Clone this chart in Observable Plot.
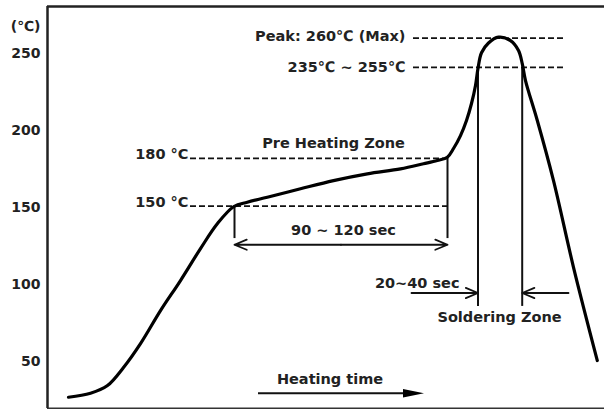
<!DOCTYPE html>
<html><head><meta charset="utf-8">
<script src="https://cdn.jsdelivr.net/npm/d3@7"></script>
<script src="https://cdn.jsdelivr.net/npm/@observablehq/plot@0.6"></script>
<style>body{margin:0;background:#fff} svg{display:block}</style>
</head><body><div id="chart"></div>
<script>
// Temperature axis ticks (°C)
const tempTicks = [50, 100, 150, 200, 250];

// Reflow profile: time (s) and temperature (°C)
const profileTime = [10.5, 21.5, 30, 38, 46.5, 56.5, 66.5, 76.5, 84.9, 93.2, 99.9, 109.9, 126.5, 143, 159.9, 176.5, 188, 194.9, 199.9, 203, 206.5, 209.5, 212, 214, 215.2, 217, 220.5, 225.5, 231.5, 235.5, 237.4, 239, 244.9, 253, 263, 274.9];
const profileTemp = [27.1, 29.7, 34.7, 46.4, 61.9, 83.3, 102.8, 123.5, 139.6, 150.8, 153.6, 156.8, 162.3, 167.6, 172.0, 175.2, 178.5, 180.6, 182.7, 188.4, 196.8, 206.6, 217.6, 229.3, 240.0, 250.5, 256.8, 260.6, 258.4, 252.0, 243.3, 232.5, 206.6, 167.6, 111.4, 50.9];

// Dashed reference levels
const refTemp = [260, 241, 182, 151];
const refStart = [183, 183, 71.5, 71.5];
const refEnd = [258, 258, 200, 200];

// Vertical guide lines
const guideTime = [93.5, 200, 215.25, 237.35];
const guideTop = [151, 182, 241, 241];
const guideBottom = [130, 130, 86, 86];

// Dimension arrows
const arrowFromT = [146.75, 146.75, 182, 260.5];
const arrowToT = [93.5, 200, 215.25, 237.35];
const arrowTemp = [126, 126, 94.7, 94.7];

// Heating-time arrow
const heatStart = 105.5, heatEnd = 179, heatHead = 183, heatTemp = 29.7;

// Annotation texts
const labelText = ["Peak: 260℃ (Max)", "235℃ ~ 255℃", "180 °C", "150 °C", "20~40 sec"];
const labelTime = [179, 179, 70.5, 70.5, 206];
const labelTemp = [261, 241, 184.5, 153.6, 100.8];
const centerText = ["Pre Heating Zone", "90 ~ 120 sec", "Soldering Zone", "Heating time"];
const centerTime = [143, 148, 226, 141.25];
const centerTemp = [191.8, 135.2, 79, 38.6];

const yDomain = [19.8, 280.5];
const xDomain = [0, 278.5];

const profile = profileTime.map((t, i) => ({t, T: profileTemp[i]}));
const refs = refTemp.map((T, i) => ({T, a: refStart[i], b: refEnd[i]}));
const guides = guideTime.map((t, i) => ({t, a: guideTop[i], b: guideBottom[i]}));
const arrows = arrowFromT.map((a, i) => ({a, b: arrowToT[i], T: arrowTemp[i]}));
const labels = labelText.map((s, i) => ({s, t: labelTime[i], T: labelTemp[i]}));
const centers = centerText.map((s, i) => ({s, t: centerTime[i], T: centerTemp[i]}));

const headSymbol = {
  draw(ctx, size) {
    const r = Math.sqrt(size / Math.PI);
    ctx.moveTo(r * 1.5, 0);
    ctx.lineTo(-r * 1.5, -r * 0.6);
    ctx.lineTo(-r * 1.5, r * 0.6);
    ctx.closePath();
  }
};

const ink = "#222";
const fs = 14.5;

const chart = Plot.plot({
  width: 604,
  height: 409,
  marginTop: 6,
  marginBottom: 1,
  marginLeft: 47,
  marginRight: 0,
  style: {fontFamily: "'DejaVu Sans', sans-serif", fontSize: "14px", fontWeight: "bold", background: "#fff"},
  x: {domain: xDomain, axis: null},
  y: {domain: yDomain},
  marks: [
    Plot.axisY({ticks: tempTicks, tickSize: 0, tickPadding: 7, label: null, fontSize: 14, fill: ink}),
    Plot.text(["(℃)"], {frameAnchor: "left", y: [267.5], dx: -7, textAnchor: "end", fontSize: 14, fill: ink}),
    // frame (top, left, bottom)
    Plot.ruleY([yDomain[1]], {stroke: "#222", strokeWidth: 2.5}),
    Plot.ruleY([yDomain[0]], {stroke: "#333", strokeWidth: 2}),
    Plot.ruleX([xDomain[0]], {stroke: "#222", strokeWidth: 2.5}),
    // dashed reference lines
    Plot.ruleY(refs, {y: "T", x1: "a", x2: "b", stroke: "#111", strokeWidth: 1.8, strokeDasharray: "6,3"}),
    // guides
    Plot.ruleX(guides, {x: "t", y1: "a", y2: "b", stroke: "#111", strokeWidth: 2}),
    Plot.arrow(arrows, {x1: "a", x2: "b", y1: "T", y2: "T", stroke: "#111", strokeWidth: 1.8, headLength: 11, headAngle: 45}),
    // profile curve
    Plot.line(profile, {x: "t", y: "T", curve: "catmull-rom", stroke: "#000", strokeWidth: 3.2}),
    // heating time arrow
    Plot.ruleY([heatTemp], {x1: heatStart, x2: heatEnd, stroke: "#111", strokeWidth: 2.2}),
    Plot.dot([heatHead], {x: d => d, y: [heatTemp], symbol: headSymbol, r: 7, fill: "#000", stroke: "none"}),
    // labels
    Plot.text(labels, {x: "t", y: "T", text: "s", textAnchor: "end", fill: ink, fontSize: fs}),
    Plot.text(centers, {x: "t", y: "T", text: "s", textAnchor: "middle", fill: ink, fontSize: fs})
  ]
});
document.getElementById("chart").append(chart);
</script>
</body></html>
